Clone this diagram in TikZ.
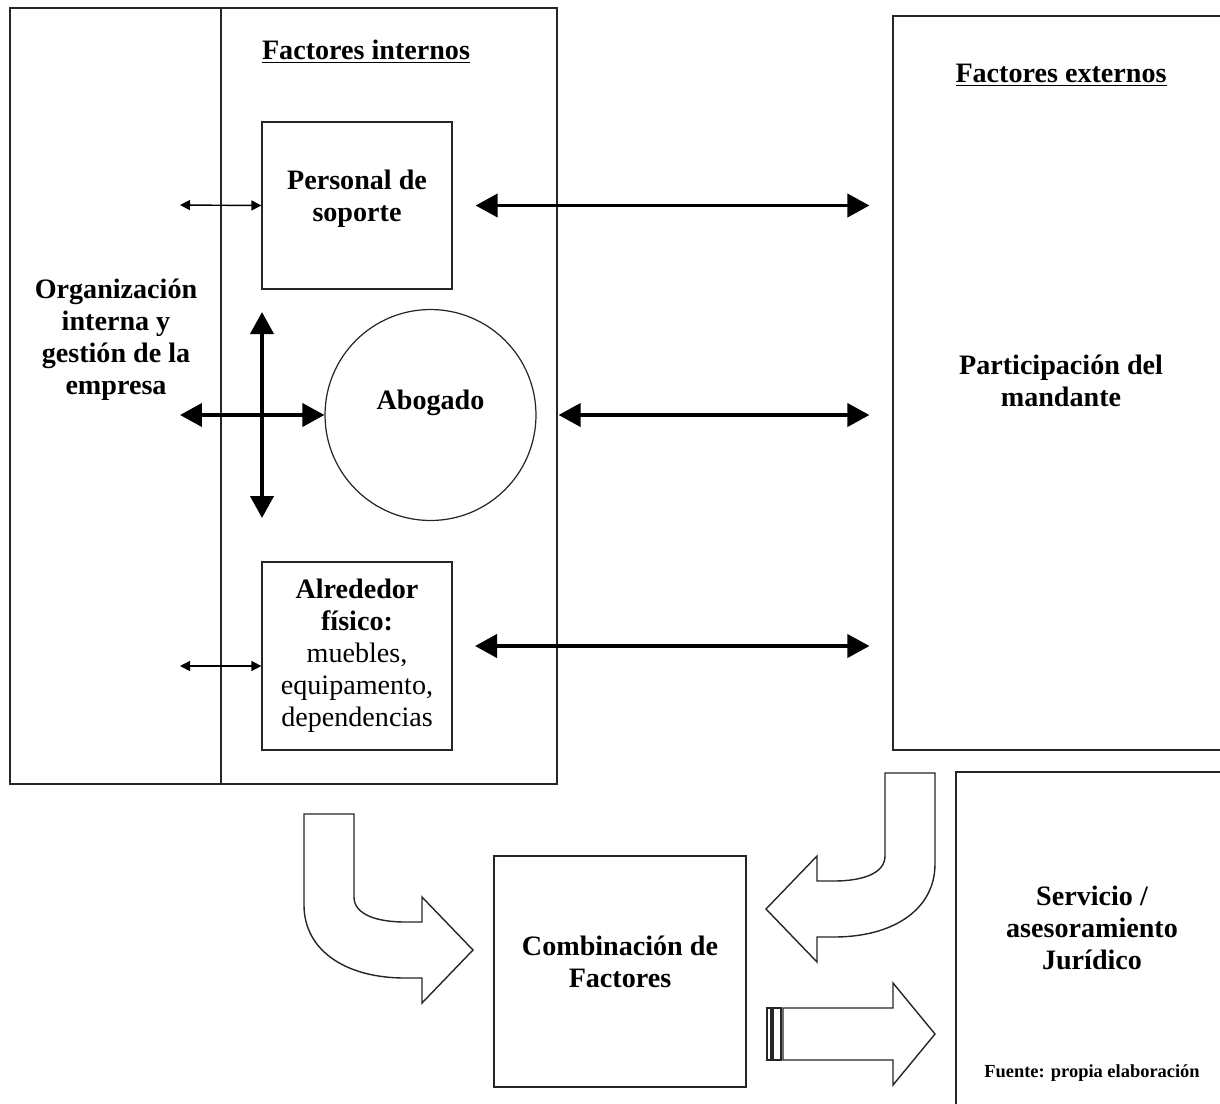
\documentclass[tikz,border=0pt]{standalone}
\usepackage{fontspec}
\setmainfont{Liberation Serif}
\usetikzlibrary{shapes,arrows.meta}
\tikzset{
  frame/.style     = {draw=black!85, line width=0.7pt, rectangle, inner sep=0pt},
  txt/.style       = {font=\fontsize{16}{18.2}\selectfont\bfseries, align=center},
  thinarrow/.style = {{Triangle[length=0.2cm,width=0.2cm]}-{Triangle[length=0.2cm,width=0.2cm]},
                      line width=0.8pt},
  bigarrow/.style  = {{Triangle[length=0.44cm,width=0.46cm]}-{Triangle[length=0.44cm,width=0.46cm]},
                      line width=2.2pt},
  hollow/.style    = {draw=black!85, line width=0.8pt, fill=white}
}
\newcommand{\bendarrow}[1]{
  \begin{scope}[#1]
    \draw[hollow] (304,814) -- (354,814) -- (354,897)
      .. controls (354,915) and (378,922) .. (405,922) -- (422,922)
      -- (422,897) -- (473,950) -- (422,1003) -- (422,978) -- (405,978)
      .. controls (345,978) and (304,950) .. (304,905) -- cycle;
  \end{scope}
}

\begin{document}
\begin{tikzpicture}[x=0.02cm, y=-0.02cm]
  \useasboundingbox (0,0) rectangle (1220,1103);
  \clip (0,0) rectangle (1220,1103);

  % factores internos
  \node[frame, minimum width=10.94cm, minimum height=15.52cm] (int) at (283.5,396) {};
  \draw[black!85, line width=0.7pt] (221,8) -- (221,784);
  \node[txt] (intl) at (366,52) {\underline{Factores internos}};
  \node[txt] (org) at (116,340) {Organización\\interna y\\gestión de la\\empresa};
  \node[frame, minimum width=3.8cm, minimum height=3.34cm,
        label={[txt, yshift=0.14cm]center:Personal de\\soporte}] (pers) at (357,205.5) {};
  \node[frame, circle, minimum size=4.22cm,
        label={[txt, yshift=0.24cm]center:Abogado}] (abog) at (430.5,415) {};
  \node[frame, txt, minimum width=3.8cm, minimum height=3.76cm] (alr) at (357,656)
    {Alrededor\\físico:\\\mdseries muebles,\\\mdseries equipamento,\\\mdseries dependencias};

  % factores externos
  \node[frame, minimum width=6.94cm, minimum height=14.68cm] (ext) at (1066.5,383) {};
  \node[txt] (extl) at (1061,75) {\underline{Factores externos}};
  \node[txt] (mand) at (1061,381) {Participación del\\mandante};

  % resultado
  \node[frame, minimum width=5.04cm, minimum height=4.62cm,
        label={[txt, yshift=0.2cm]center:Combinación de\\Factores}] (comb) at (620,971.5) {};
  \node[frame, minimum width=5.68cm, minimum height=6.96cm] (serv) at (1098,946) {};
  \node[txt] (servl) at (1092,928) {Servicio /\\asesoramiento\\Jurídico};
  \node[font=\fontsize{10.5}{12}\selectfont\bfseries] (fuente) at (1092,1073)
    {Fuente: propia elaboración};

  % flechas
  \coordinate (pl) at (180,205);
  \coordinate (al) at (180,666);
  \coordinate (cl) at (180,415);
  \coordinate (ct) at (262,312);
  \coordinate (cb) at (262,518);
  \coordinate (ar) at (475,646);
  \draw[thinarrow] (pl) -- (pers.west);
  \draw[thinarrow] (al) -- (al -| alr.west);
  \draw[bigarrow] (cl) -- (abog.west);
  \draw[bigarrow] (ct) -- (cb);
  \draw[bigarrow, shorten <=0.46cm, shorten >=0.46cm] (pers.east) -- (pers.east -| ext.west);
  \draw[bigarrow, shorten <=0.44cm, shorten >=0.46cm] (abog.east) -- (abog.east -| ext.west);
  \draw[bigarrow, shorten >=0.46cm] (ar) -- (ar -| ext.west);

  \bendarrow{}
  \bendarrow{shift={(1239,-41)}, xscale=-1}
  \draw[hollow] (767,1008) rectangle (771,1060);
  \draw[hollow] (773,1008) rectangle (781,1060);
  \draw[hollow] (783,1008) -- (893,1008) -- (893,983) -- (935,1034)
    -- (893,1085) -- (893,1060) -- (783,1060) -- cycle;
\end{tikzpicture}
\end{document}
